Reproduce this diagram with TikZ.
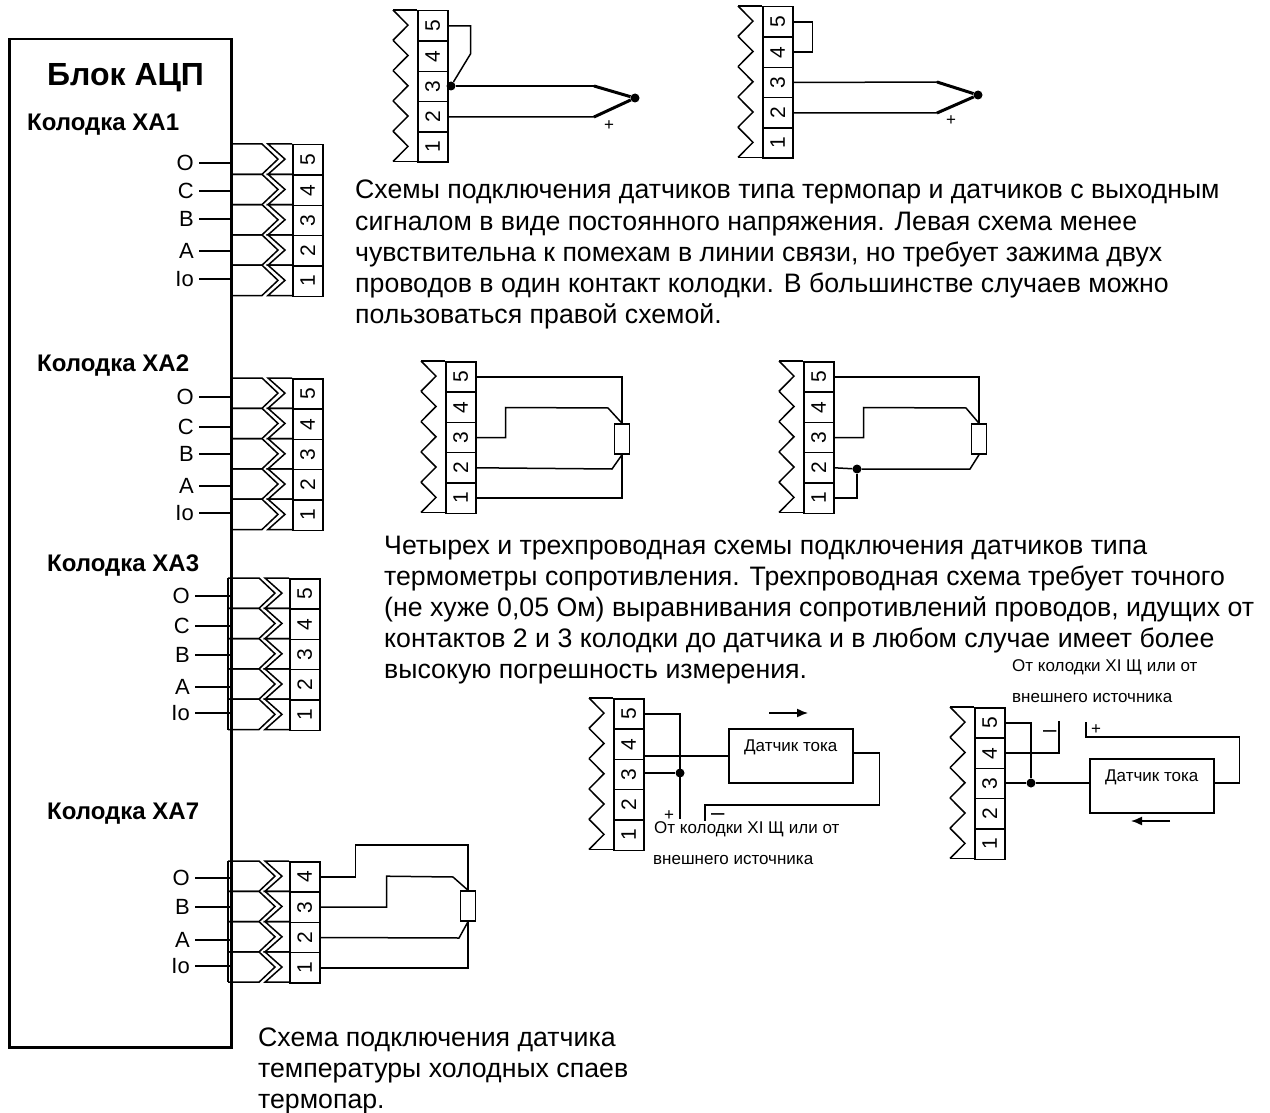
\documentclass[tikz,border=0pt]{standalone}
\usepackage{fontspec}
\usepackage{graphicx}
\setmainfont{Liberation Sans}
\usetikzlibrary{arrows.meta, calc, positioning}

\def\rowh{30.3}
% terminal strip, single zigzag
\newcommand{\kolodka}[4]{
	\foreach \i [evaluate=\i as \yy using #3+(#4-\i)*\rowh] in {1,...,#4} {
		\node[cell] (#1\i) at (#2,\yy) {\rotatebox{90}{\i}};
		\draw[wire] (#2-24,\yy) -- (#2-9,\yy+0.5*\rowh) -- (#2-24,\yy+\rowh);
	}
	\draw[wire] (#2-24,#3) -- (#2,#3);
	\draw[wire] (#2-24,#3+#4*\rowh) -- (#2,#3+#4*\rowh);
}
% terminal strip on the unit, double zigzag
\newcommand{\kolodkaB}[5]{
	\foreach \i [evaluate=\i as \yy using #4+(#5-\i)*\rowh] in {1,...,#5} {
		\node[cell] (#1\i) at (#3,\yy) {\rotatebox{90}{\i}};
		\draw[wire] (#2,\yy) -- (#3-30,\yy) -- (#3-14,\yy+0.5*\rowh) -- (#3-30,\yy+\rowh) -- (#2,\yy+\rowh);
		\draw[wire] (#3,\yy) -- (#3-24,\yy) -- (#3-7,\yy+0.5*\rowh) -- (#3-24,\yy+\rowh) -- (#3,\yy+\rowh);
	}
	\draw[wire] (#2,#4) -- (#2,#4+#5*\rowh);
}

\begin{document}
\begin{tikzpicture}[x=1pt, y=-1pt,
	wire/.style = {line width=1.5pt, line join=miter},
	flow/.style = {line width=1.5pt, -{Latex[length=11pt, width=9pt]}},
	thermo/.style = {line width=3pt},
	cell/.style = {draw, line width=1.5pt, anchor=north west, inner sep=0pt, minimum width=30pt, minimum height=30.3pt, font=\fontsize{21}{21}\selectfont},
	unit/.style = {draw, line width=2.5pt, anchor=north west, inner sep=0pt, minimum width=222pt, minimum height=1008pt},
	res/.style = {draw, line width=1.5pt, inner sep=0pt, minimum width=15pt, minimum height=30pt},
	sensor/.style = {draw, line width=1.5pt, anchor=north west, inner sep=0pt, minimum width=124pt, minimum height=54pt},
	dot/.style = {circle, fill, inner sep=0pt, minimum size=9pt},
	pin/.style = {anchor=east, inner sep=5pt, font=\fontsize{22}{22}\selectfont},
	head/.style = {anchor=base west, inner sep=0pt, font=\fontsize{24}{24}\selectfont\bfseries},
	body/.style = {anchor=north west, inner sep=0pt, align=left, font=\fontsize{26.7}{31.2}\selectfont},
	small/.style = {anchor=base west, inner sep=0pt, font=\fontsize{17}{17}\selectfont},
	minus/.style = {anchor=base west, inner sep=0pt, font=\fontsize{24}{24}\selectfont}]
	\useasboundingbox (0,0) rectangle (1270,1113);

	\node[unit] (blok) at (8,38) {};
	\node[anchor=base west, inner sep=0pt, font=\fontsize{32}{32}\selectfont\bfseries] (title) at (47,86) {Блок АЦП};

	% Kolodka XA1
	\node[head] (xa1) at (27,131) {Колодка ХА1};
	\kolodkaB{aa}{232}{292}{144}{5}
	\node[pin] (aO) at (199,163) {O};
	\node[pin] (aC) at (199,191) {C};
	\node[pin] (aB) at (199,219) {B};
	\node[pin] (aA) at (199,251) {A};
	\node[pin] (aI) at (199,279) {Io};
	\draw[wire] (aO.east) -- (aO.east -| blok.east);
	\draw[wire] (aC.east) -- (aC.east -| blok.east);
	\draw[wire] (aB.east) -- (aB.east -| blok.east);
	\draw[wire] (aA.east) -- (aA.east -| blok.east);
	\draw[wire] (aI.east) -- (aI.east -| blok.east);

	% Kolodka XA2
	\node[head] (xa2) at (37,371) {Колодка ХА2};
	\kolodkaB{bb}{232}{292}{378}{5}
	\node[pin] (bO) at (199,397) {O};
	\node[pin] (bC) at (199,427) {C};
	\node[pin] (bB) at (199,454) {B};
	\node[pin] (bA) at (199,486) {A};
	\node[pin] (bI) at (199,513) {Io};
	\draw[wire] (bO.east) -- (bO.east -| blok.east);
	\draw[wire] (bC.east) -- (bC.east -| blok.east);
	\draw[wire] (bB.east) -- (bB.east -| blok.east);
	\draw[wire] (bA.east) -- (bA.east -| blok.east);
	\draw[wire] (bI.east) -- (bI.east -| blok.east);

	% Kolodka XA3
	\node[head] (xa3) at (47,571) {Колодка ХА3};
	\kolodkaB{cc}{228}{289}{578}{5}
	\node[pin] (cO) at (195,596) {O};
	\node[pin] (cC) at (195,626) {C};
	\node[pin] (cB) at (195,655) {B};
	\node[pin] (cA) at (195,687) {A};
	\node[pin] (cI) at (195,713) {Io};
	\draw[wire] (cO.east) -- (cO.east -| blok.east);
	\draw[wire] (cC.east) -- (cC.east -| blok.east);
	\draw[wire] (cB.east) -- (cB.east -| blok.east);
	\draw[wire] (cA.east) -- (cA.east -| blok.east);
	\draw[wire] (cI.east) -- (cI.east -| blok.east);

	% Kolodka XA7
	\node[head] (xa7) at (47,819) {Колодка ХА7};
	\kolodkaB{dd}{228}{289}{861}{4}
	\node[pin] (dO) at (195,878) {O};
	\node[pin] (dB) at (195,907) {B};
	\node[pin] (dA) at (195,940) {A};
	\node[pin] (dI) at (195,966) {Io};
	\draw[wire] (dO.east) -- (dO.east -| blok.east);
	\draw[wire] (dB.east) -- (dB.east -| blok.east);
	\draw[wire] (dA.east) -- (dA.east -| blok.east);
	\draw[wire] (dI.east) -- (dI.east -| blok.east);
	\node[res] (r7) at (468,906) {};
	\draw[wire] (dd4.east) -- ++(35,0) -- ++(0,-32) -| (r7.north);
	\draw[wire] (dd3.east) -- ++(66,0) -- ++(0,-31) -- (453,877) -- (r7.north);
	\draw[wire] (dd2.east) -- (459,938) -- (r7.south);
	\draw[wire] (dd1.east) -| (r7.south);
	\node[body, font=\fontsize{26.7}{30.8}\selectfont] (txt3) at (258,1028) {Схема подключения датчика\\температуры холодных спаев\\термопар.};

	% thermocouples
	\kolodka{ta}{417}{10}{5}
	\node[dot] (ta0) at (451,86) {};
	\node[dot] (tj1) at (635,98) {};
	\draw[wire] (ta5.east) -- ++(22,0) -- ++(0,28) -- (ta0);
	\draw[wire] (ta0) -- (594,86);
	\draw[wire] (ta2.east) -- (594,117);
	\draw[thermo] (594,86) -- (tj1);
	\draw[thermo] (594,117) -- (tj1);
	\node[small] (pa) at (604,131) {+};

	\kolodka{tb}{762}{6}{5}
	\node[dot] (tj2) at (978,95) {};
	\draw[wire] (tb5.east) -- ++(19,0) |- (tb4.east);
	\draw[wire] (tb3.east) -- (937,82);
	\draw[wire] (tb2.east) -- (937,113);
	\draw[thermo] (937,82) -- (tj2);
	\draw[thermo] (937,113) -- (tj2);
	\node[small] (pb) at (946,126) {+};

	\node[body] (txt1) at (355,180) {Схемы подключения датчиков типа термопар и датчиков с выходным\\сигналом в виде постоянного напряжения. Левая схема менее\\чувствительна к помехам в линии связи, но требует зажима двух\\проводов в один контакт колодки. В большинстве случаев можно\\пользоваться правой схемой.};

	% resistance thermometers
	\kolodka{ra}{445}{361}{5}
	\node[res] (r1) at (622,439) {};
	\draw[wire] (ra5.east) -| (r1.north);
	\draw[wire] (ra3.east) -- ++(29,0) -- ++(0,-30) -- (608,408) -- (r1.north);
	\draw[wire] (ra2.east) -- (612,469) -- (r1.south);
	\draw[wire] (ra1.east) -| (r1.south);

	\kolodka{rb}{803}{361}{5}
	\node[res] (r2) at (979,439) {};
	\node[dot] (rj) at (857,469) {};
	\draw[wire] (rb5.east) -| (r2.north);
	\draw[wire] (rb3.east) -- ++(29,0) -- ++(0,-30) -- (966,408) -- (r2.north);
	\draw[wire] (rb2.east) -- (rj) -- (970,469) -- (r2.south);
	\draw[wire] (rb1.east) -| (rj);

	\node[body] (txt2) at (384,535.5) {Четырех и трехпроводная схемы подключения датчиков  типа\\термометры сопротивления. Трехпроводная схема требует точного\\(не хуже 0,05 Ом) выравнивания сопротивлений проводов, идущих от\\контактов 2 и 3 колодки до датчика и в любом случае имеет более\\высокую погрешность измерения.};

	% current sensors
	\kolodka{ia}{613}{698}{5}
	\node[sensor] (s1) at (728,728) {};
	\node[small] at (s1.center) [yshift=4pt, anchor=base] (s1t) {Датчик тока};
	\node[dot] (ij1) at (680,773) {};
	\coordinate (ip1) at (680,819);
	\coordinate (im1) at (705,821);
	\draw[wire] (ia5.east) -| (ip1);
	\draw[wire] (ia4.east |- s1.west) -- (s1.west);
	\draw[wire] (ia3.east |- ij1) -- (ij1);
	\draw[wire] (s1.east) ++(0,-3) -- ++(26,0) |- ($(im1)+(0,-16)$) -- (im1);
	\coordinate (fa) at (769,713);
	\coordinate (fb) at (808,713);
	\draw[flow] (fa) -- (fb);
	\node[small] (p1) at (664,820) {+};
	\node[minus] (m1) at (711,820.5) {–};
	\node[small] (l1) at (654,833.5) {От колодки ХI Щ или от};
	\node[small] (l2) at (653,864) {внешнего источника};

	\kolodka{ib}{974}{707}{5}
	\node[sensor] (s2) at (1089,758) {};
	\node[small] at (s2.center) [yshift=4pt, anchor=base] (s2t) {Датчик тока};
	\node[dot] (ij2) at (1031,783) {};
	\coordinate (im2) at (1059,721);
	\coordinate (ip2) at (1086,722);
	\draw[wire] (ib5.east) -| (ij2);
	\draw[wire] (ib4.east) -| (im2);
	\draw[wire] (ib3.east |- ij2) -- (ij2) -- (ij2 -| s2.west);
	\draw[wire] (s2.east |- ij2) -- ++(25,0) |- ($(ip2)+(0,15)$) -- (ip2);
	\coordinate (fc) at (1170,821);
	\coordinate (fd) at (1131,821);
	\draw[flow] (fc) -- (fd);
	\node[minus] (m2) at (1043,737) {–};
	\node[small] (p2) at (1091,734) {+};
	\node[small] (l3) at (1012,671) {От колодки ХI Щ или от};
	\node[small] (l4) at (1012,702) {внешнего источника};
\end{tikzpicture}
\end{document}
